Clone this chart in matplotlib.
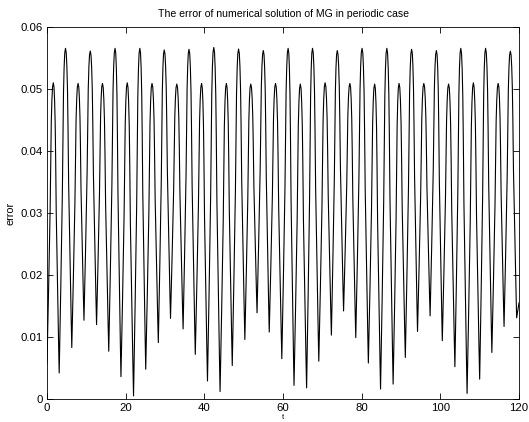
import numpy as np
import matplotlib
matplotlib.use("Agg")
import matplotlib.pyplot as plt

t_start, err_start = 0.0, 0.0058
t_end, err_end = 120.0, 0.0155

t_min = [3.1, 6.3, 9.4, 12.6, 15.7, 18.8, 22.0, 25.1, 28.3, 31.4, 34.6, 37.7,
         40.8, 44.0, 47.1, 50.3, 53.4, 56.5, 59.7, 62.8, 66.0, 69.1, 72.3, 75.4,
         78.5, 81.7, 84.8, 88.0, 91.1, 94.2, 97.4, 100.5, 103.7, 106.8, 110.0,
         113.1, 116.2, 119.4]
err_min = [0.0042, 0.0083, 0.0127, 0.0120, 0.0077, 0.0036, 0.0005, 0.0048,
           0.0091, 0.0130, 0.0113, 0.0072, 0.0029, 0.0012, 0.0054, 0.0096,
           0.0139, 0.0108, 0.0065, 0.0022, 0.0018, 0.0061, 0.0103, 0.0142,
           0.0099, 0.0058, 0.0016, 0.0024, 0.0067, 0.0109, 0.0134, 0.0094,
           0.0052, 0.0009, 0.0032, 0.0075, 0.0117, 0.0131]

t_peak = [1.6, 4.7, 7.9, 11.0, 14.1, 17.3, 20.4, 23.6, 26.7, 29.8, 33.0, 36.1,
          39.3, 42.4, 45.6, 48.7, 51.8, 55.0, 58.1, 61.3, 64.4, 67.5, 70.7,
          73.8, 77.0, 80.1, 83.3, 86.4, 89.5, 92.7, 95.8, 99.0, 102.1, 105.2,
          108.4, 111.5, 114.7, 117.8]
err_peak_short = [0.0510, 0.0509, 0.0509, 0.0510, 0.0509, 0.0508, 0.0509,
                  0.0509, 0.0508, 0.0509, 0.0508, 0.0510, 0.0509, 0.0508,
                  0.0509, 0.0509, 0.0508, 0.0510, 0.0509]
err_peak_tall = [0.05656, 0.05613, 0.05656, 0.05656, 0.0563, 0.0564, 0.0567,
                 0.05645, 0.0562, 0.05656, 0.05656, 0.0562, 0.05656, 0.05656,
                 0.0564, 0.0562, 0.05656, 0.05656, 0.0561]

# Shape of one flank (minimum -> peak):
# fraction of the time span vs fraction of the rise
flank_time = [0.0, 0.1, 0.25, 0.5, 0.6, 0.68, 0.78, 0.88, 1.0]
flank_rise = [0.0, 0.1, 0.26, 0.55, 0.74, 0.86, 0.94, 0.985, 1.0]

err_peak = []
for s, tl in zip(err_peak_short, err_peak_tall):
    err_peak += [s, tl]

ext = [(t_start, err_start, 'min')] + \
      [(a, b, 'min') for a, b in zip(t_min, err_min)] + \
      [(a, b, 'max') for a, b in zip(t_peak, err_peak)]
ext.sort()

ft = np.array(flank_time)
fr = np.array(flank_rise)
t = [ext[0][0]]
err = [ext[0][1]]
for (ta, va, ka), (tb, vb, kb) in zip(ext[:-1], ext[1:]):
    if ka == 'min':
        tt = ta + ft * (tb - ta)
        vv = va + fr * (vb - va)
    else:
        tt = (tb - ft * (tb - ta))[::-1]
        vv = (vb + fr * (va - vb))[::-1]
    t += list(tt[1:])
    err += list(vv[1:])
t.append(t_end)
err.append(err_end)

plt.rcParams['font.family'] = ['Liberation Sans', 'DejaVu Sans']

fig = plt.figure(figsize=(5.29, 4.22), dpi=100)
ax = fig.add_axes([47/529, 23/422, 472/529, 372/422])
ax.plot(t, err, color='black', linewidth=0.8)

ax.set_xlim(0, 120)
ax.set_ylim(0, 0.06)
ax.set_xticks([0, 20, 40, 60, 80, 100, 120])
ax.set_yticks([0, 0.01, 0.02, 0.03, 0.04, 0.05, 0.06])
ax.set_yticklabels(['0', '0.01', '0.02', '0.03', '0.04', '0.05', '0.06'])
ax.tick_params(direction='in', top=True, right=True, length=4, width=0.6,
               labelsize=8.2, pad=3)
for sp in ax.spines.values():
    sp.set_linewidth(0.6)

ax.set_title('The error of numerical solution of MG in periodic case',
             fontsize=7.6, pad=7)
ax.set_ylabel('error', fontsize=7.8, labelpad=4)
ax.set_xlabel('t', fontsize=5.5, labelpad=0.5)

fig.savefig('out.png', dpi=100)
